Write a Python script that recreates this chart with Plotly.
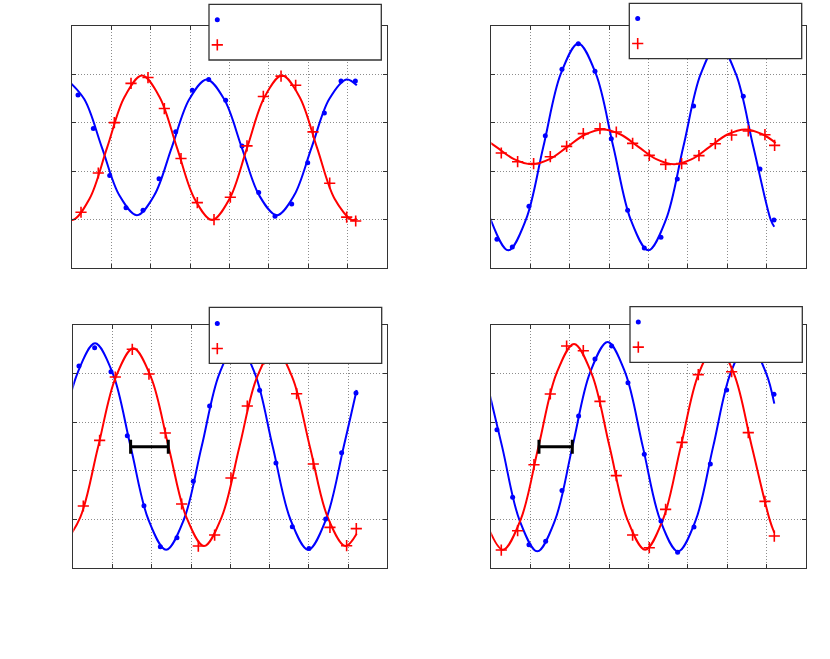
import plotly.graph_objects as go

# ---------------- data ----------------
# Panel 1 (top-left)
P1_BLUE_X = [0.153, 0.542, 0.958, 1.373, 1.805, 2.212, 2.636, 3.059, 3.475, 3.907, 4.322, 4.746, 5.161, 5.585, 5.992, 6.415, 6.839, 7.203]
P1_BLUE_Y = [3.57, 2.88, 1.91, 1.245, 1.19, 1.84, 2.81, 3.67, 3.89, 3.46, 2.52, 1.56, 1.07, 1.32, 2.17, 3.20, 3.86, 3.86]
P1_RED_X = [0.229, 0.669, 1.076, 1.5, 1.932, 2.347, 2.771, 3.186, 3.610, 4.025, 4.449, 4.864, 5.314, 5.686, 6.127, 6.551, 6.983, 7.212]
P1_RED_Y = [1.15, 1.96, 3.00, 3.81, 3.93, 3.29, 2.26, 1.35, 1.00, 1.46, 2.52, 3.54, 3.96, 3.77, 2.81, 1.75, 1.05, 0.97]
P1_BLUE_FIT_X = [-0.13, 0.314, 0.759, 1.203, 1.648, 2.092, 2.537, 2.981, 3.425, 3.869, 4.314, 4.758, 5.203, 5.647, 6.092, 6.536, 6.98, 7.24]
P1_BLUE_FIT_Y = [3.89, 3.48, 2.49, 1.50, 1.09, 1.50, 2.49, 3.48, 3.89, 3.48, 2.49, 1.50, 1.09, 1.50, 2.49, 3.48, 3.89, 3.77]
P1_RED_FIT_X = [-0.445, 0, 0.445, 0.89, 1.335, 1.78, 2.225, 2.67, 3.115, 3.56, 4.005, 4.45, 4.895, 5.34, 5.785, 6.23, 6.675, 7.12, 7.24]
P1_RED_FIT_Y = [1.43, 0.99, 1.43, 2.48, 3.53, 3.97, 3.53, 2.48, 1.43, 0.99, 1.43, 2.48, 3.53, 3.97, 3.53, 2.48, 1.43, 0.99, 1.02]

# Panel 2 (top-right)
P2_BLUE_X = [0.144, 0.534, 0.958, 1.374, 1.798, 2.214, 2.638, 3.053, 3.469, 3.893, 4.317, 4.733, 5.148, 5.572, 5.988, 6.412, 6.836, 7.193]
P2_BLUE_Y = [0.591, 0.433, 1.272, 2.730, 4.099, 4.629, 4.058, 2.669, 1.190, 0.413, 0.633, 1.836, 3.343, 4.45, 4.4, 3.542, 2.043, 0.990]
P2_RED_X = [0.254, 0.670, 1.077, 1.501, 1.917, 2.341, 2.765, 3.181, 3.596, 4.020, 4.436, 4.843, 5.284, 5.700, 6.115, 6.539, 6.963, 7.209]
P2_RED_Y = [2.373, 2.194, 2.153, 2.297, 2.510, 2.772, 2.875, 2.806, 2.572, 2.325, 2.139, 2.153, 2.318, 2.565, 2.744, 2.827, 2.751, 2.531]
P2_BLUE_FIT_X = [-0.458, -0.012, 0.433, 0.878, 1.324, 1.769, 2.214, 2.660, 3.105, 3.550, 3.995, 4.441, 4.886, 5.331, 5.776, 6.222, 6.667, 7.112, 7.20]
P2_BLUE_FIT_Y = [2.50, 0.991, 0.365, 0.991, 2.50, 4.009, 4.635, 4.009, 2.50, 0.991, 0.365, 0.991, 2.50, 4.009, 4.635, 4.009, 2.50, 0.991, 0.85]
P2_RED_FIT_X = [-0.328, 0.125, 0.578, 1.03, 1.483, 1.935, 2.388, 2.84, 3.293, 3.745, 4.198, 4.65, 5.103, 5.555, 6.008, 6.46, 6.913, 7.235]
P2_RED_FIT_Y = [2.755, 2.50, 2.245, 2.14, 2.245, 2.50, 2.755, 2.86, 2.755, 2.50, 2.245, 2.14, 2.245, 2.50, 2.755, 2.86, 2.755, 2.58]

# Panel 3 (bottom-left)
P3_BLUE_X = [0.144, 0.544, 0.960, 1.376, 1.800, 2.217, 2.641, 3.057, 3.473, 3.890, 4.306, 4.747, 5.163, 5.580, 6.004, 6.429, 6.837, 7.202]
P3_BLUE_Y = [4.155, 4.533, 4.038, 2.720, 1.277, 0.433, 0.618, 1.779, 3.331, 4.35, 4.55, 3.654, 2.157, 0.845, 0.398, 1.003, 2.370, 3.599]
P3_RED_X = [0.255, 0.671, 1.070, 1.503, 1.928, 2.344, 2.760, 3.185, 3.601, 4.017, 4.433, 4.858, 5.282, 5.690, 6.115, 6.539, 6.964, 7.210]
P3_RED_Y = [1.271, 2.624, 3.929, 4.499, 3.990, 2.775, 1.312, 0.446, 0.673, 1.848, 3.331, 4.30, 4.45, 3.585, 2.136, 0.831, 0.453, 0.804]
P3_BLUE_FIT_X = [-0.35, 0.1025, 0.555, 1.0075, 1.46, 1.9125, 2.365, 2.8175, 3.27, 3.7225, 4.175, 4.6275, 5.08, 5.5325, 5.985, 6.4375, 6.89, 7.219]
P3_BLUE_FIT_Y = [2.496, 3.999, 4.622, 3.999, 2.496, 0.993, 0.37, 0.993, 2.496, 3.999, 4.622, 3.999, 2.496, 0.993, 0.37, 0.993, 2.496, 3.66]
P3_RED_FIT_X = [-0.27, 0.18, 0.63, 1.08, 1.53, 1.98, 2.43, 2.88, 3.33, 3.78, 4.23, 4.68, 5.13, 5.58, 6.03, 6.48, 6.93, 7.219]
P3_RED_FIT_Y = [0.446, 1.043, 2.483, 3.923, 4.52, 3.923, 2.483, 1.043, 0.446, 1.043, 2.483, 3.923, 4.52, 3.923, 2.483, 1.043, 0.446, 0.70]
P3_LAG_X = [1.94]
P3_LAG_Y = [2.493]
P3_LAG_HALF = [0.48]

# Panel 4 (bottom-right)
P4_BLUE_X = [0.144, 0.543, 0.958, 1.383, 1.798, 2.222, 2.638, 3.062, 3.478, 3.893, 4.317, 4.741, 5.157, 5.573, 5.988, 6.412, 6.836, 7.193]
P4_BLUE_Y = [2.843, 1.449, 0.474, 0.543, 1.593, 3.125, 4.299, 4.567, 3.812, 2.335, 0.962, 0.316, 0.838, 2.136, 3.661, 4.55, 4.40, 3.571]
P4_RED_X = [0.254, 0.670, 1.086, 1.501, 1.917, 2.341, 2.765, 3.181, 3.596, 4.020, 4.436, 4.852, 5.267, 5.691, 6.115, 6.539, 6.963, 7.201]
P4_RED_Y = [0.364, 0.762, 2.122, 3.578, 4.567, 4.471, 3.427, 1.896, 0.673, 0.412, 1.202, 2.582, 3.977, 4.6, 4.038, 2.782, 1.367, 0.652]
P4_BLUE_FIT_X = [-0.1725, 0.275, 0.7225, 1.17, 1.6175, 2.065, 2.5125, 2.96, 3.4075, 3.855, 4.3025, 4.75, 5.1975, 5.645, 6.0925, 6.54, 6.9875, 7.201]
P4_BLUE_FIT_Y = [4.019, 2.494, 0.969, 0.337, 0.969, 2.494, 4.019, 4.651, 4.019, 2.494, 0.969, 0.337, 0.969, 2.494, 4.019, 4.651, 4.019, 3.38]
P4_RED_FIT_X = [-0.1575, 0.295, 0.7475, 1.2, 1.6525, 2.105, 2.5575, 3.01, 3.4625, 3.915, 4.3675, 4.82, 5.2725, 5.725, 6.1775, 6.63, 7.0825, 7.201]
P4_RED_FIT_Y = [0.991, 0.37, 0.991, 2.49, 3.989, 4.61, 3.989, 2.49, 0.991, 0.37, 0.991, 2.49, 3.989, 4.61, 3.989, 2.49, 0.991, 0.72]
P4_LAG_X = [1.637]
P4_LAG_Y = [2.493]
P4_LAG_HALF = [0.424]

X_RANGE = [0, 8]
Y_RANGE = [0, 5]

# ---------------- layout helpers ----------------
W, H = 830, 659
BLUE = "#0000ff"
RED = "#ff0000"
FRAME = "#333333"


def px_x(p):
    return p / W


def px_y(p):
    return 1 - p / H


panels = [
    dict(ax="", xd=(72, 386.7), yd=(25.7, 268),
         blue=(P1_BLUE_X, P1_BLUE_Y), red=(P1_RED_X, P1_RED_Y),
         bfit=(P1_BLUE_FIT_X, P1_BLUE_FIT_Y), rfit=(P1_RED_FIT_X, P1_RED_FIT_Y),
         lag=None, leg=(197.3, 2.2), box=(209, 4.3, 381.3, 60)),
    dict(ax="2", xd=(491.3, 805.7), yd=(25.7, 268),
         blue=(P2_BLUE_X, P2_BLUE_Y), red=(P2_RED_X, P2_RED_Y),
         bfit=(P2_BLUE_FIT_X, P2_BLUE_FIT_Y), rfit=(P2_RED_FIT_X, P2_RED_FIT_Y),
         lag=None, leg=(617.7, 0.9), box=(629.3, 3.3, 801.7, 58.7)),
    dict(ax="3", xd=(73.3, 387.3), yd=(325, 567.7),
         blue=(P3_BLUE_X, P3_BLUE_Y), red=(P3_RED_X, P3_RED_Y),
         bfit=(P3_BLUE_FIT_X, P3_BLUE_FIT_Y), rfit=(P3_RED_FIT_X, P3_RED_FIT_Y),
         lag=(P3_LAG_X, P3_LAG_Y, P3_LAG_HALF), leg=(197.3, 305.9), box=(209.3, 307.3, 381.7, 363.3)),
    dict(ax="4", xd=(491.3, 805.7), yd=(325, 567.7),
         blue=(P4_BLUE_X, P4_BLUE_Y), red=(P4_RED_X, P4_RED_Y),
         bfit=(P4_BLUE_FIT_X, P4_BLUE_FIT_Y), rfit=(P4_RED_FIT_X, P4_RED_FIT_Y),
         lag=(P4_LAG_X, P4_LAG_Y, P4_LAG_HALF), leg=(618.3, 304.5), box=(630, 306.7, 802.3, 362.3)),
]

fig = go.Figure()
layout = dict(
    width=W, height=H,
    margin=dict(l=0, r=0, t=0, b=0, autoexpand=False),
    paper_bgcolor="white", plot_bgcolor="white",
    showlegend=True, shapes=[], hovermode=False,
)

for i, p in enumerate(panels):
    xa = "x" + p["ax"]
    ya = "y" + p["ax"]
    leg = "legend" + ("" if i == 0 else str(i + 1))

    fig.add_trace(go.Scatter(x=p["bfit"][0], y=p["bfit"][1], mode="lines",
                             line=dict(color=BLUE, width=2, shape="spline"),
                             xaxis=xa, yaxis=ya, showlegend=False, hoverinfo="skip"))
    fig.add_trace(go.Scatter(x=p["rfit"][0], y=p["rfit"][1], mode="lines",
                             line=dict(color=RED, width=2, shape="spline"),
                             xaxis=xa, yaxis=ya, showlegend=False, hoverinfo="skip"))
    fig.add_trace(go.Scatter(x=p["blue"][0], y=p["blue"][1], mode="markers", name="",
                             marker=dict(color=BLUE, size=5, symbol="circle"),
                             xaxis=xa, yaxis=ya, legend=leg, showlegend=True))
    fig.add_trace(go.Scatter(x=p["red"][0], y=p["red"][1], mode="markers", name="",
                             marker=dict(color=RED, size=8, symbol="cross-thin",
                                         line=dict(color=RED, width=1.6)),
                             xaxis=xa, yaxis=ya, legend=leg, showlegend=True))
    if p["lag"] is not None:
        lx, ly, lh = p["lag"]
        fig.add_trace(go.Scatter(x=lx, y=ly, mode="markers",
                                 marker=dict(size=1, opacity=0),
                                 error_x=dict(type="data", array=lh, symmetric=True,
                                              color="black", thickness=3, width=7),
                                 xaxis=xa, yaxis=ya, showlegend=False, hoverinfo="skip"))

    axis_common = dict(showticklabels=False, ticks="inside", ticklen=4, tickwidth=1,
                       tickcolor=FRAME, showline=True, linecolor=FRAME, linewidth=1.3,
                       mirror="ticks", showgrid=True, gridcolor="#8c8c8c", gridwidth=1,
                       griddash="1px,2px", zeroline=False, fixedrange=True)
    layout["xaxis" + p["ax"]] = dict(axis_common, range=X_RANGE, dtick=1, tick0=0,
                                     domain=[px_x(p["xd"][0]), px_x(p["xd"][1])], anchor=ya)
    layout["yaxis" + p["ax"]] = dict(axis_common, range=Y_RANGE, dtick=1, tick0=0,
                                     domain=[px_y(p["yd"][1]), px_y(p["yd"][0])], anchor=xa)

    layout[leg] = dict(x=px_x(p["leg"][0]), y=px_y(p["leg"][1]), xanchor="left", yanchor="top",
                       bgcolor="rgba(0,0,0,0)", borderwidth=0, font=dict(size=17),
                       orientation="v", tracegroupgap=0)

    bx0, by0, bx1, by1 = p["box"]
    layout["shapes"].append(dict(type="rect", xref="paper", yref="paper",
                                 x0=px_x(bx0), x1=px_x(bx1), y0=px_y(by1), y1=px_y(by0),
                                 line=dict(color=FRAME, width=1.3), fillcolor="white",
                                 layer="above"))

fig.update_layout(**layout)
# remove the browser's default 8px body margin so the figure fills the window exactly
fig.write_html("out.html",
               config={"displayModeBar": False},
               post_script="document.body.style.margin='0px';document.body.style.overflow='hidden';")
